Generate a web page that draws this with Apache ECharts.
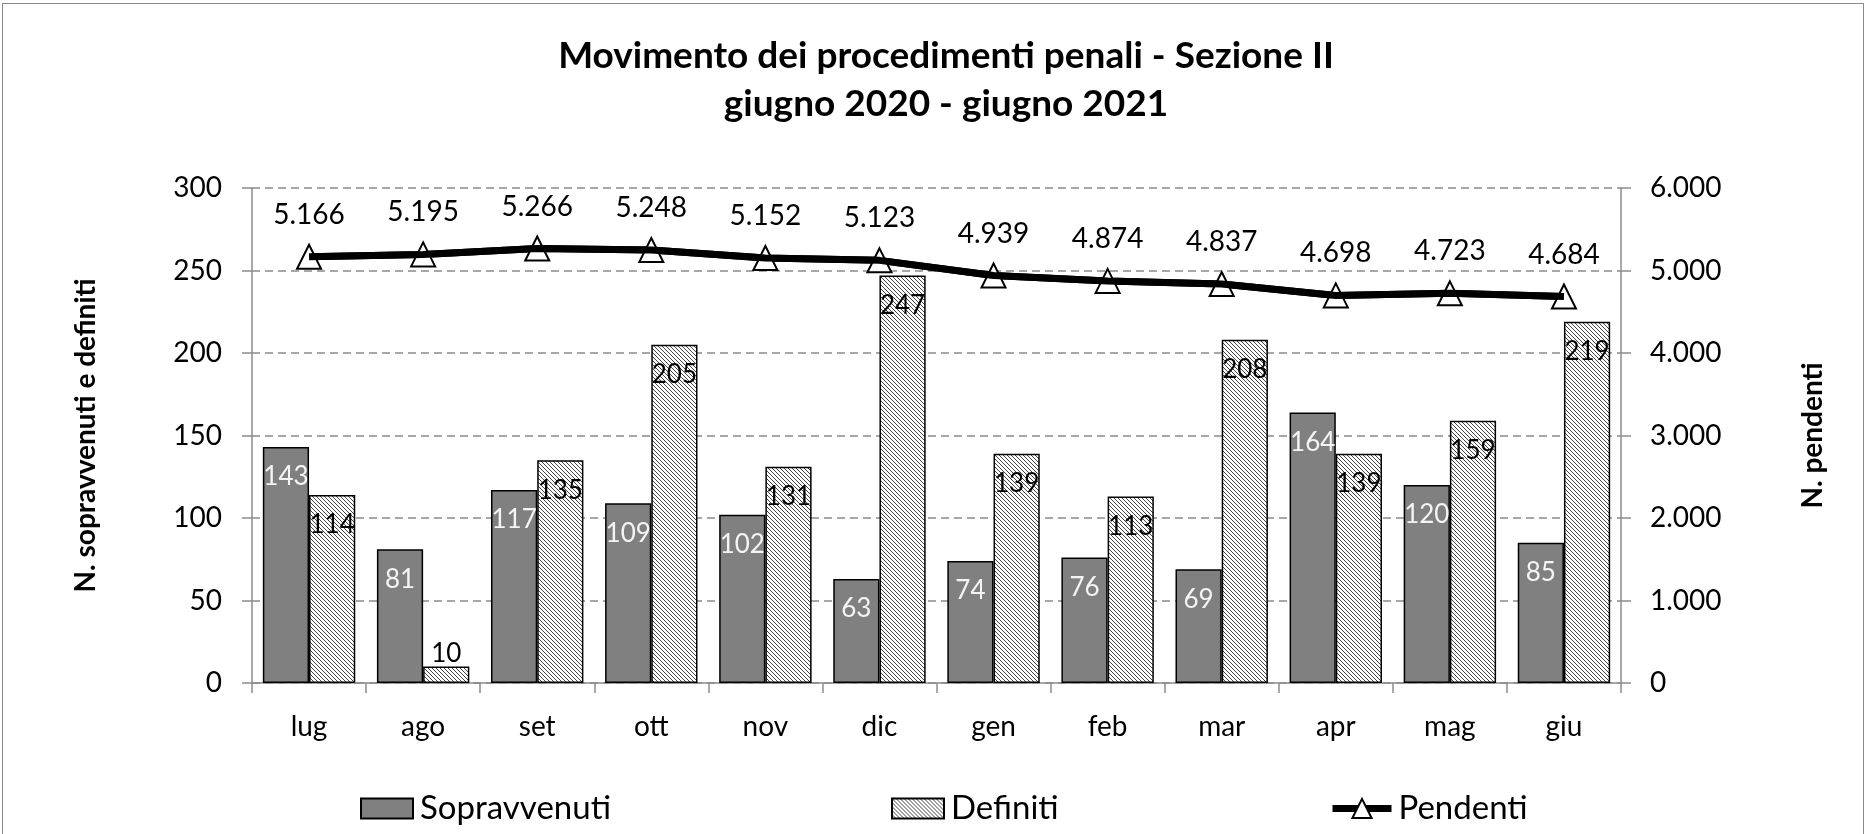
<!DOCTYPE html>
<html>
<head>
<meta charset="utf-8">
<script src="https://cdn.jsdelivr.net/npm/echarts@6/dist/echarts.min.js"></script>
<style>
  html, body { margin: 0; padding: 0; background: #fff; }
  #chart { position: absolute; left: 0; top: 0; width: 1867px; height: 834px; }
  #frame { position: absolute; left: 2px; top: 3px; width: 1862px; height: 840px;
           box-sizing: border-box; border: 1px solid #8a8a8a; pointer-events: none; }
</style>
</head>
<body>
<div id="chart"></div>
<div id="frame"></div>
<script>
// months, giugno 2020 - giugno 2021
var mesi = ['lug', 'ago', 'set', 'ott', 'nov', 'dic', 'gen', 'feb', 'mar', 'apr', 'mag', 'giu'];
var sopravvenuti = [143, 81, 117, 109, 102, 63, 74, 76, 69, 164, 120, 85];
var definiti = [114, 10, 135, 205, 131, 247, 139, 113, 208, 139, 159, 219];
var pendenti = [5166, 5195, 5266, 5248, 5152, 5123, 4939, 4874, 4837, 4698, 4723, 4684];

var FONT = 'Lato, "Open Sans", sans-serif';

// thousands with a dot, like 5.166
function migliaia(v) {
	return String(v).replace(/\B(?=(\d{3})+(?!\d))/g, '.');
}

// diagonal hatch used for "Definiti"
function hatch() {
	var c = document.createElement('canvas');
	c.width = 4;
	c.height = 4;
	var ctx = c.getContext('2d');
	ctx.fillStyle = '#ffffff';
	ctx.fillRect(0, 0, 4, 4);
	ctx.strokeStyle = '#444444';
	ctx.lineWidth = 1;
	ctx.beginPath();
	ctx.moveTo(-1, -1); ctx.lineTo(5, 5);
	ctx.moveTo(-1, 3); ctx.lineTo(1, 5);
	ctx.moveTo(3, -1); ctx.lineTo(5, 1);
	ctx.stroke();
	return c;
}
var hatchFill = { image: hatch(), repeat: 'repeat' };

// short bars get their label above
var definitiData = definiti.map(function (v) {
	if (v < 25) {
		return { value: v, label: { position: 'top', distance: 0 } };
	}
	return v;
});

var legendText = { fontFamily: FONT, fontSize: 33, color: '#000', padding: [0, 0, 0, 2] };

var option = {
	backgroundColor: '#ffffff',
	animation: false,
	title: {
		text: 'Movimento dei procedimenti penali - Sezione II\ngiugno 2020 - giugno 2021',
		left: 941,
		top: 27,
		textAlign: 'center',
		textStyle: {
			fontFamily: FONT,
			fontWeight: 'bold',
			fontSize: 37,
			lineHeight: 48,
			color: '#000'
		}
	},
	legend: [
		{ data: [{ name: 'Sopravvenuti', icon: 'rect' }], left: 355, top: 787, itemWidth: 52, itemHeight: 20, textStyle: legendText },
		{ data: [{ name: 'Definiti', icon: 'rect' }], left: 886, top: 787, itemWidth: 52, itemHeight: 20, textStyle: legendText },
		{
			data: ['Pendenti'], left: 1324, top: 787, itemWidth: 59, itemHeight: 24,
			lineStyle: { width: 7, color: '#000' },
			itemStyle: { color: '#fff', borderColor: '#000', borderWidth: 2 },
			textStyle: legendText
		}
	],
	grid: {
		left: 252,
		right: 246,
		top: 188,
		bottom: 151
	},
	xAxis: {
		type: 'category',
		data: mesi,
		axisLine: { lineStyle: { color: '#8c8c8c', width: 1.5 } },
		axisTick: { show: true, length: 10, lineStyle: { color: '#8c8c8c', width: 1.5 } },
		axisLabel: { margin: 30, fontFamily: FONT, fontSize: 28, color: '#000' }
	},
	yAxis: [
		{
			type: 'value',
			min: 0,
			max: 300,
			interval: 50,
			name: 'N. sopravvenuti e definiti',
			nameLocation: 'middle',
			nameGap: 152,
			nameTextStyle: { fontFamily: FONT, fontWeight: 'bold', fontSize: 28, color: '#000' },
			axisLine: { show: true, lineStyle: { color: '#8c8c8c', width: 1.5 } },
			axisTick: { show: true, length: 10, lineStyle: { color: '#8c8c8c', width: 1.5 } },
			axisLabel: { margin: 30, fontFamily: FONT, fontSize: 28, color: '#000' },
			splitLine: { show: true, lineStyle: { color: '#8a8a8a', width: 1.5, type: [8, 5] } }
		},
		{
			type: 'value',
			min: 0,
			max: 6000,
			interval: 1000,
			position: 'right',
			name: 'N. pendenti',
			nameLocation: 'middle',
			nameGap: 178,
			nameTextStyle: { fontFamily: FONT, fontWeight: 'bold', fontSize: 28, color: '#000' },
			axisLine: { show: true, lineStyle: { color: '#8c8c8c', width: 1.5 } },
			axisTick: { show: true, length: 10, lineStyle: { color: '#8c8c8c', width: 1.5 } },
			axisLabel: { margin: 29, fontFamily: FONT, fontSize: 28, color: '#000', formatter: migliaia },
			splitLine: { show: false }
		}
	],
	series: [
		{
			name: 'Sopravvenuti',
			type: 'bar',
			data: sopravvenuti,
			barGap: '0%',
			barCategoryGap: '19%',
			itemStyle: { color: '#808080', borderColor: '#000', borderWidth: 1.5 },
			label: {
				show: true,
				position: 'insideTop',
				distance: 17,
				fontFamily: FONT,
				fontSize: 26,
				color: '#f4f4f4'
			}
		},
		{
			name: 'Definiti',
			type: 'bar',
			data: definitiData,
			itemStyle: { color: hatchFill, borderColor: '#000', borderWidth: 1.5 },
			label: {
				show: true,
				position: 'insideTop',
				distance: 17,
				fontFamily: FONT,
				fontSize: 26,
				color: '#000'
			}
		},
		{
			name: 'Pendenti',
			type: 'line',
			yAxisIndex: 1,
			data: pendenti,
			symbol: 'triangle',
			symbolSize: 24,
			itemStyle: { color: '#ffffff', borderColor: '#000', borderWidth: 2 },
			lineStyle: { color: '#000', width: 7 },
			z: 5,
			label: {
				show: true,
				position: 'top',
				distance: 15,
				fontFamily: FONT,
				fontSize: 28,
				color: '#000',
				formatter: function (p) { return migliaia(p.value); }
			}
		},
		{
			// same line again, on top of the markers, as in the original
			name: 'Pendenti-linea',
			type: 'line',
			yAxisIndex: 1,
			data: pendenti,
			symbol: 'none',
			silent: true,
			lineStyle: { color: '#000', width: 7 },
			z: 6
		}
	]
};

var myChart = echarts.init(document.getElementById('chart'));
myChart.setOption(option);
</script>
</body>
</html>
